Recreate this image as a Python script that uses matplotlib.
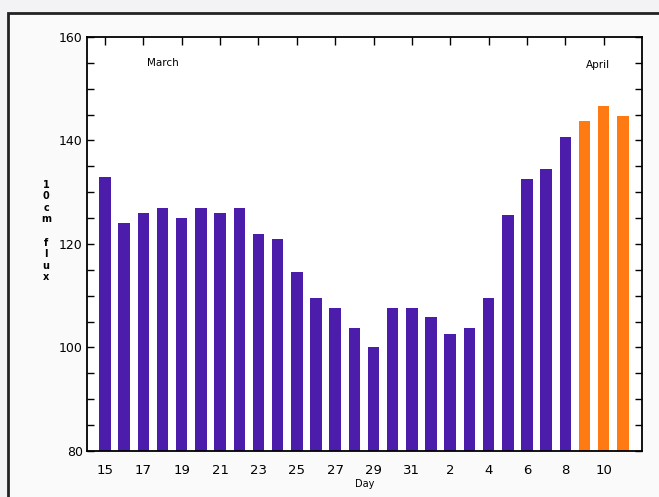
import matplotlib.pyplot as plt
from matplotlib.patches import Rectangle
from matplotlib.ticker import MultipleLocator

# daily 10cm flux, 15 March .. 11 April
days = [15, 16, 17, 18, 19, 20, 21, 22, 23, 24, 25, 26, 27, 28, 29, 30, 31,
        1, 2, 3, 4, 5, 6, 7, 8, 9, 10, 11]
flux = [133, 124, 126, 127, 125, 127, 126, 127, 122, 121, 114.5, 109.5, 107.7, 103.8,
        100, 107.7, 107.7, 105.8, 102.7, 103.8, 109.6, 125.6, 132.5, 134.4, 140.7,
        143.7, 146.6, 144.7]
n_forecast = 3  # last bars drawn in orange

purple = "#4c1cab"
orange = "#ff7a12"

fig = plt.figure(figsize=(6.59, 4.97), dpi=100, facecolor="#f3f3f5")
ax = fig.add_axes([87 / 659, 1 - 451 / 497, (642 - 87) / 659, (451 - 37) / 497])
ax.set_facecolor("white")

# outer frame of the picture
fig.patches.append(Rectangle((8 / 659, -0.05), 1.1, 1 - 13 / 497 + 0.05,
                             transform=fig.transFigure, fill=True, facecolor="#fafafa",
                             edgecolor="#222222", linewidth=2, zorder=-1))

x = list(range(len(days)))
colors = [purple] * (len(days) - n_forecast) + [orange] * n_forecast
ax.bar(x, flux, width=0.6, color=colors)

ax.set_xlim(-0.94, 28.0)
ax.set_ylim(80, 160)

ax.set_yticks([80, 100, 120, 140, 160])
ax.yaxis.set_minor_locator(MultipleLocator(5))
ax.tick_params(axis="y", which="both", direction="in", right=True, labelsize=9,
               length=5, width=1, pad=3)
ax.set_xticks(x[::2])
ax.set_xticklabels([str(d) for d in days[::2]], fontsize=9.5)
ax.tick_params(axis="x", direction="in", bottom=False, top=True, length=6, width=1, pad=9)

for s in ax.spines.values():
    s.set_linewidth(1.3)

ax.set_xlabel("Day", fontsize=7, labelpad=2)
fig.text(46 / 659, 1 - 231 / 497, "1\n0\nc\nm\n\nf\nl\nu\nx", fontsize=7,
         ha="center", va="center", linespacing=1.2, fontweight="bold")

ax.text(3.0, 155, "March", fontsize=7.5, ha="center", va="center")
ax.text(25.7, 154.6, "April", fontsize=7.5, ha="center", va="center")

fig.savefig("out.png", dpi=100, facecolor=fig.get_facecolor())
